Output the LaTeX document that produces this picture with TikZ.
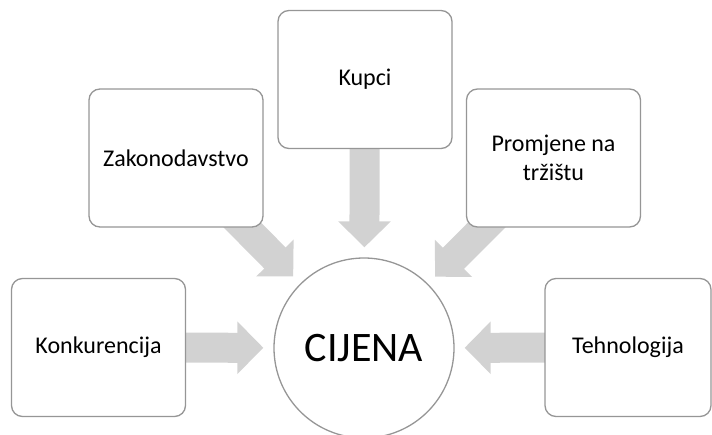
\documentclass[tikz,border=0pt]{standalone}
\usepackage{fontspec}
\setmainfont{Carlito}
\usetikzlibrary{arrows.meta,backgrounds}
\definecolor{boxline}{RGB}{150,150,150}
\definecolor{arrowfill}{RGB}{210,210,210}
\begin{document}
\begin{tikzpicture}[x=1pt,y=-1pt,
  factor/.style={draw=boxline, line width=1.3pt, fill=white, rounded corners=11pt,
    minimum width=174pt, minimum height=138pt, align=center, inner sep=2pt,
    font=\fontsize{24}{29}\selectfont},
  price/.style={circle, draw=boxline, line width=1.3pt, fill=white, minimum size=180pt,
    inner sep=0pt, font=\fontsize{42}{48}\selectfont},
  blockarrow/.style={draw=arrowfill, line width=30pt, shorten >=10pt,
    -{Triangle[width=51pt,length=26pt,fill=arrowfill]}}]
\useasboundingbox (0,0) rectangle (712,434);
\begin{scope}
\clip (0,0) rectangle (712,434);
\node[price] (C) at (364,348) {CIJENA};
\node[factor] (K) at (98.5,347.5) {Konkurencija};
\node[factor] (Z) at (176,158) {Zakonodavstvo};
\node[factor] (U) at (365,79.5) {Kupci};
\node[factor] (P) at (553.5,158) {Promjene na\\tržištu};
\node[factor, minimum width=166pt] (T) at (628,347.5) {Tehnologija};
\begin{scope}[on background layer]
\draw[blockarrow] (K.center) -- (C);
\draw[blockarrow] (Z.center) -- (C);
\draw[blockarrow] (U.center) -- (C);
\draw[blockarrow] (P.center) -- (C);
\draw[blockarrow] (T.center) -- (C);
\end{scope}
\end{scope}
\end{tikzpicture}
\end{document}
